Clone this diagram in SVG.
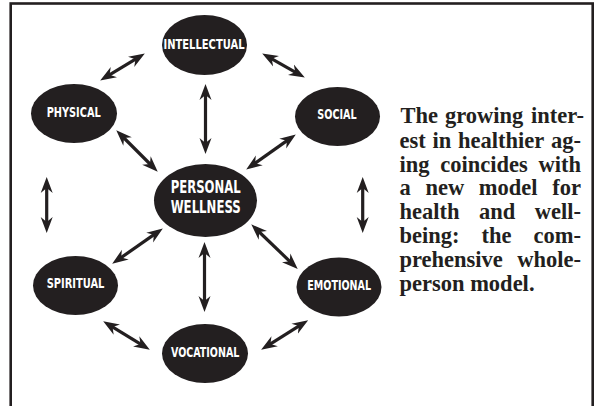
<svg xmlns="http://www.w3.org/2000/svg" width="597" height="406" viewBox="0 0 597 406">
<style>
.node ellipse{fill:#231f20}
.node text{fill:#fff;font-family:"Liberation Sans Narrow","Arial Narrow","DejaVu Sans Condensed","Liberation Sans",sans-serif;font-weight:bold;font-size:14.5px;text-anchor:middle}
.node text.big{font-size:17px}
.conn path{fill:none;stroke:#231f20;stroke-width:3.2}
.body{font-family:"Liberation Serif","Times New Roman",serif;font-weight:bold;font-size:22.5px;fill:#231f20}
</style>
<defs>
<marker id="ah" viewBox="0 -7 16 14" refX="10" refY="0" markerWidth="16" markerHeight="14" markerUnits="userSpaceOnUse" orient="auto-start-reverse">
<path d="M0,-6 L16,0 L0,6 L5,0 Z" fill="#231f20"/>
</marker>
</defs>
<rect x="0" y="0" width="597" height="406" fill="#fff"/>
<rect x="10.7" y="3.5" width="582" height="420" fill="none" stroke="#231f20" stroke-width="2.6"/>
<g id="connectors" class="conn">
<path d="M105.3,77.4 L139.7,56.6" marker-start="url(#ah)" marker-end="url(#ah)"/>
<path d="M267.4,56.4 L299.6,74.6" marker-start="url(#ah)" marker-end="url(#ah)"/>
<path d="M205.5,90 L205.5,148" marker-start="url(#ah)" marker-end="url(#ah)"/>
<path d="M120.5,134.5 L153.5,167.5" marker-start="url(#ah)" marker-end="url(#ah)"/>
<path d="M290.9,137.9 L251.1,166.1" marker-start="url(#ah)" marker-end="url(#ah)"/>
<path d="M46.7,183 L46.7,227" marker-start="url(#ah)" marker-end="url(#ah)"/>
<path d="M362.7,183 L362.7,227" marker-start="url(#ah)" marker-end="url(#ah)"/>
<path d="M157.9,231.9 L117.1,260.4" marker-start="url(#ah)" marker-end="url(#ah)"/>
<path d="M255.6,228.5 L293.4,264.8" marker-start="url(#ah)" marker-end="url(#ah)"/>
<path d="M204.5,248 L204.5,306" marker-start="url(#ah)" marker-end="url(#ah)"/>
<path d="M108.3,324.3 L144.7,346.7" marker-start="url(#ah)" marker-end="url(#ah)"/>
<path d="M303.1,323.4 L266.2,346.6" marker-start="url(#ah)" marker-end="url(#ah)"/>
</g>
<g id="intellectual" class="node"><ellipse cx="204.5" cy="45" rx="42.5" ry="30"/><text x="204" y="48.5" textLength="81" lengthAdjust="spacingAndGlyphs">INTELLECTUAL</text></g>
<g id="physical" class="node"><ellipse cx="74" cy="113.5" rx="43" ry="29.5"/><text x="73.7" y="117.3" textLength="54" lengthAdjust="spacingAndGlyphs">PHYSICAL</text></g>
<g id="social" class="node"><ellipse cx="337.5" cy="116.5" rx="42.5" ry="29.5"/><text x="337" y="119.3" textLength="39.3" lengthAdjust="spacingAndGlyphs">SOCIAL</text></g>
<g id="personal-wellness" class="node"><ellipse cx="205.5" cy="200.5" rx="51.5" ry="36.5"/><text class="big" x="205.7" y="193.3" textLength="70" lengthAdjust="spacingAndGlyphs">PERSONAL</text><text class="big" x="205.7" y="213.3" textLength="70" lengthAdjust="spacingAndGlyphs">WELLNESS</text></g>
<g id="spiritual" class="node"><ellipse cx="75.5" cy="285.5" rx="42.5" ry="29.5"/><text x="75.5" y="288" textLength="57.7" lengthAdjust="spacingAndGlyphs">SPIRITUAL</text></g>
<g id="emotional" class="node"><ellipse cx="339" cy="287" rx="42.5" ry="29.5"/><text x="339.2" y="290" textLength="63.7" lengthAdjust="spacingAndGlyphs">EMOTIONAL</text></g>
<g id="vocational" class="node"><ellipse cx="205" cy="353.5" rx="43" ry="29.5"/><text x="205.2" y="357" textLength="68.3" lengthAdjust="spacingAndGlyphs">VOCATIONAL</text></g>
<text class="body" y="123.3"><tspan x="400.5">The</tspan><tspan x="484.2" text-anchor="middle">growing</tspan><tspan x="584" text-anchor="end">inter-</tspan></text>
<text class="body" y="147.7"><tspan x="399.5">est</tspan><tspan x="441.9" text-anchor="middle">in</tspan><tspan x="501.2" text-anchor="middle">healthier</tspan><tspan x="581" text-anchor="end">ag-</tspan></text>
<text class="body" y="171.5"><tspan x="399.5">ing</tspan><tspan x="484" text-anchor="middle">coincides</tspan><tspan x="581" text-anchor="end">with</tspan></text>
<text class="body" y="195.3"><tspan x="399.5">a</tspan><tspan x="444.8" text-anchor="middle">new</tspan><tspan x="508.2" text-anchor="middle">model</tspan><tspan x="581" text-anchor="end">for</tspan></text>
<text class="body" y="219.1"><tspan x="399.5">health</tspan><tspan x="497.1" text-anchor="middle">and</tspan><tspan x="581" text-anchor="end">well-</tspan></text>
<text class="body" y="242.9"><tspan x="399.5">being:</tspan><tspan x="496.5" text-anchor="middle">the</tspan><tspan x="581" text-anchor="end">com-</tspan></text>
<text class="body" y="266.7"><tspan x="399.5">prehensive</tspan><tspan x="581" text-anchor="end">whole-</tspan></text>
<text class="body" y="290.5" x="399.5">person model.</text>
</svg>
